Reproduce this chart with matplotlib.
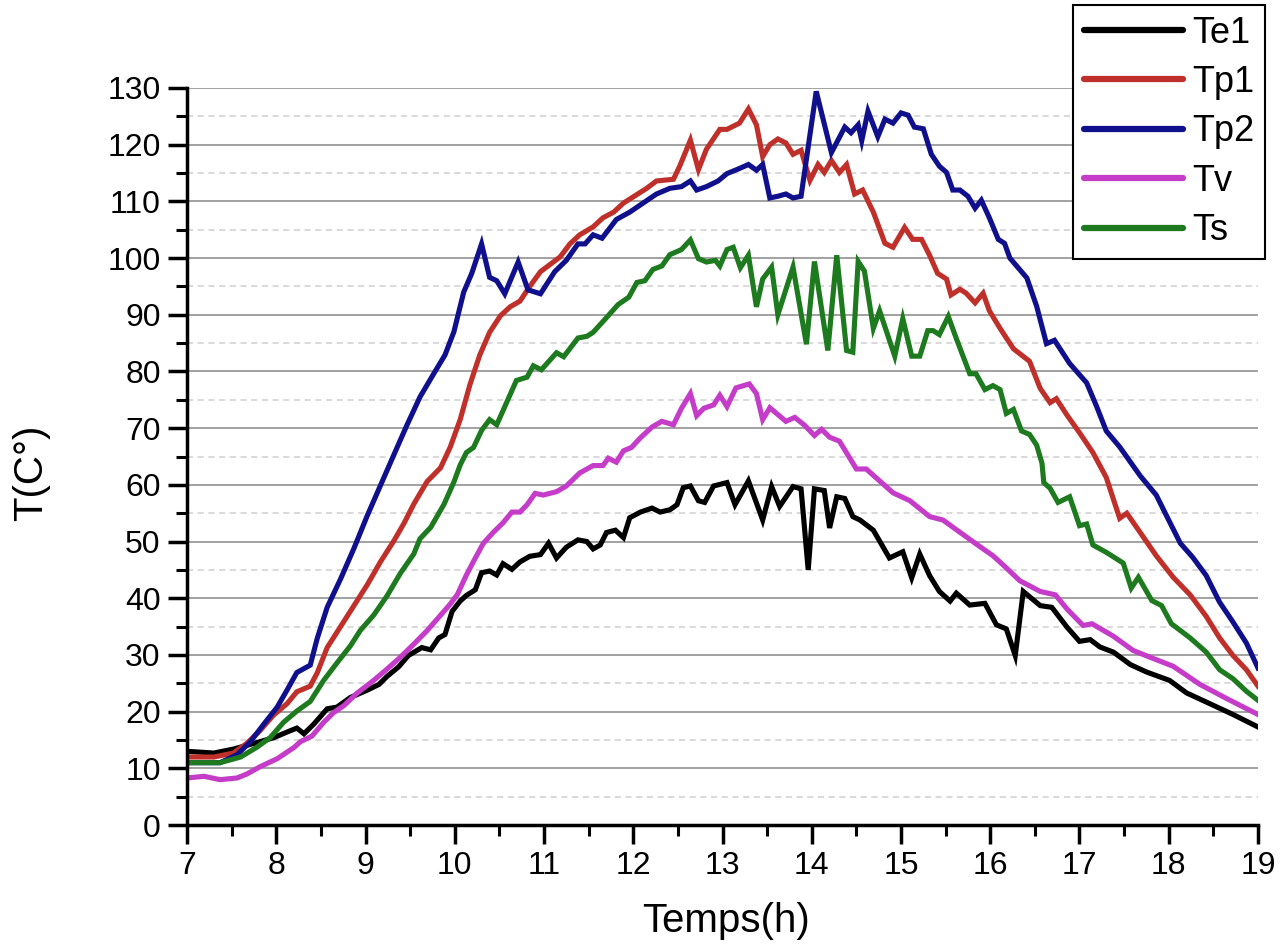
import matplotlib
matplotlib.use('Agg')
import matplotlib.pyplot as plt
from matplotlib.ticker import MultipleLocator

plt.rcParams['font.family'] = ['Liberation Sans', 'DejaVu Sans']

# hours / temperatures
te1_t = [7.0, 7.3, 7.52, 7.75, 7.97, 8.12, 8.23, 8.31, 8.42, 8.57,
         8.68, 8.83, 9.02, 9.15, 9.24, 9.37, 9.48, 9.63, 9.73, 9.82,
         9.89, 9.97, 10.06, 10.13, 10.23, 10.3, 10.39, 10.47, 10.54, 10.64,
         10.73, 10.84, 10.96, 11.05, 11.14, 11.25, 11.38, 11.48, 11.55, 11.63,
         11.7, 11.8, 11.89, 11.96, 12.08, 12.21, 12.3, 12.41, 12.49, 12.56,
         12.64, 12.73, 12.8, 12.9, 13.05, 13.14, 13.29, 13.45, 13.55, 13.64,
         13.79, 13.88, 13.96, 14.03, 14.14, 14.2, 14.28, 14.37, 14.46, 14.54,
         14.69, 14.87, 15.02, 15.12, 15.21, 15.32, 15.43, 15.55, 15.62, 15.77,
         15.94, 16.07, 16.18, 16.28, 16.37, 16.56, 16.69, 16.86, 17.0, 17.12,
         17.23, 17.38, 17.57, 17.75, 18.01, 18.2, 18.42, 18.72, 19.0]
te1_v = [13.0, 12.7, 13.4, 14.4, 15.4, 16.4, 17.1, 16.1, 17.8, 20.5,
         20.8, 22.5, 23.8, 24.8, 26.2, 27.9, 29.9, 31.3, 30.9, 33.0,
         33.6, 37.7, 39.5, 40.5, 41.5, 44.5, 44.8, 44.1, 46.1, 45.1,
         46.4, 47.4, 47.7, 49.7, 47.1, 49.0, 50.3, 50.0, 48.7, 49.4,
         51.6, 52.0, 50.7, 54.2, 55.2, 55.9, 55.2, 55.6, 56.5, 59.5,
         59.8, 57.2, 56.9, 59.8, 60.4, 56.5, 60.7, 53.8, 59.7, 56.2,
         59.7, 59.3, 45.0, 59.3, 59.0, 52.4, 57.9, 57.6, 54.4, 53.8,
         52.0, 47.1, 48.2, 43.6, 47.8, 44.0, 41.2, 39.5, 40.9, 38.8,
         39.1, 35.3, 34.6, 29.9, 41.2, 38.7, 38.4, 34.9, 32.4, 32.7,
         31.4, 30.5, 28.3, 27.0, 25.5, 23.3, 21.7, 19.5, 17.3]

tp1_t = [7.0, 7.3, 7.52, 7.67, 7.82, 7.97, 8.12, 8.23, 8.38, 8.46,
         8.57, 8.72, 8.87, 9.02, 9.17, 9.32, 9.43, 9.54, 9.69, 9.84,
         9.95, 10.06, 10.17, 10.28, 10.39, 10.51, 10.62, 10.73, 10.84, 10.96,
         11.07, 11.18, 11.29, 11.4, 11.55, 11.66, 11.78, 11.89, 12.02, 12.15,
         12.26, 12.45, 12.52, 12.64, 12.73, 12.82, 12.97, 13.05, 13.19, 13.29,
         13.38, 13.45, 13.53, 13.62, 13.71, 13.79, 13.88, 13.98, 14.07, 14.14,
         14.22, 14.31, 14.39, 14.48, 14.57, 14.69, 14.82, 14.91, 15.04, 15.13,
         15.23, 15.32, 15.41, 15.51, 15.56, 15.66, 15.73, 15.83, 15.92, 15.99,
         16.11, 16.26, 16.44, 16.56, 16.67, 16.74, 16.86, 17.0, 17.15, 17.3,
         17.45, 17.53, 17.68, 17.86, 18.05, 18.24, 18.42, 18.57, 18.72, 18.87,
         19.0]
tp1_v = [12.0, 12.0, 12.7, 14.4, 16.7, 19.4, 21.4, 23.5, 24.5, 26.9,
         31.3, 35.0, 38.7, 42.4, 46.5, 50.2, 53.2, 56.6, 60.6, 63.0,
         66.7, 71.5, 77.7, 82.9, 86.9, 89.8, 91.4, 92.4, 95.0, 97.6,
         98.9, 100.2, 102.5, 104.1, 105.5, 107.1, 108.1, 109.7, 111.0, 112.3,
         113.6, 113.9, 116.2, 120.8, 115.6, 119.2, 122.7, 122.7, 123.8, 126.3,
         123.5, 117.9, 120.0, 121.0, 120.3, 118.3, 119.0, 113.7, 116.5, 115.1,
         117.2, 115.1, 116.5, 111.3, 112.0, 108.1, 102.6, 101.9, 105.4, 103.3,
         103.3, 100.5, 97.3, 96.3, 93.5, 94.5, 93.8, 92.1, 93.8, 90.7,
         87.6, 84.0, 81.8, 77.0, 74.5, 75.2, 72.3, 69.2, 65.7, 61.3,
         54.1, 55.0, 51.6, 47.5, 43.7, 40.6, 36.8, 33.0, 29.9, 27.4,
         24.5]

tp2_t = [7.0, 7.37, 7.56, 7.71, 7.86, 8.01, 8.12, 8.23, 8.38, 8.46,
         8.57, 8.72, 8.87, 9.02, 9.17, 9.32, 9.46, 9.61, 9.76, 9.89,
         9.99, 10.1, 10.19, 10.3, 10.39, 10.47, 10.56, 10.71, 10.82, 10.96,
         11.12, 11.25, 11.38, 11.46, 11.55, 11.65, 11.81, 11.96, 12.11, 12.26,
         12.41, 12.54, 12.64, 12.71, 12.82, 12.95, 13.05, 13.19, 13.29, 13.38,
         13.45, 13.53, 13.62, 13.71, 13.79, 13.88, 14.05, 14.22, 14.37, 14.44,
         14.52, 14.56, 14.63, 14.74, 14.82, 14.91, 15.0, 15.08, 15.15, 15.25,
         15.34, 15.43, 15.51, 15.58, 15.66, 15.75, 15.83, 15.9, 15.99, 16.09,
         16.16, 16.22, 16.41, 16.52, 16.63, 16.72, 16.89, 17.08, 17.19, 17.3,
         17.45, 17.68, 17.86, 17.98, 18.13, 18.27, 18.42, 18.57, 18.72, 18.87,
         19.0]
tp2_v = [11.0, 11.0, 12.4, 14.7, 17.8, 20.8, 23.8, 26.9, 28.2, 33.0,
         38.4, 43.4, 48.8, 54.6, 60.0, 65.4, 70.4, 75.5, 79.5, 82.9,
         87.0, 94.0, 97.3, 102.5, 96.6, 96.0, 93.7, 99.3, 94.4, 93.7,
         97.6, 99.6, 102.5, 102.5, 104.1, 103.5, 106.8, 108.1, 109.7, 111.3,
         112.3, 112.6, 113.6, 112.0, 112.6, 113.6, 114.9, 115.8, 116.5, 115.5,
         116.5, 110.6, 110.9, 111.3, 110.6, 110.9, 129.4, 118.6, 123.1, 122.1,
         123.5, 120.7, 125.9, 121.4, 124.5, 123.8, 125.6, 125.2, 123.1, 122.8,
         118.3, 116.2, 115.1, 112.0, 112.0, 110.9, 108.8, 110.2, 107.1, 103.3,
         102.6, 100.0, 96.5, 91.5, 84.9, 85.5, 81.4, 78.0, 73.9, 69.5,
         66.7, 61.6, 58.2, 54.4, 49.7, 47.2, 44.0, 39.3, 35.8, 32.1,
         27.7]

tv_t = [7.0, 7.19, 7.37, 7.56, 7.67, 7.82, 8.01, 8.2, 8.27, 8.4,
        8.53, 8.64, 8.76, 8.9, 9.09, 9.24, 9.39, 9.54, 9.69, 9.84,
        9.95, 10.03, 10.13, 10.23, 10.32, 10.43, 10.54, 10.64, 10.73, 10.81,
        10.9, 10.99, 11.14, 11.25, 11.4, 11.55, 11.66, 11.72, 11.81, 11.89,
        11.98, 12.08, 12.21, 12.32, 12.45, 12.54, 12.64, 12.71, 12.79, 12.9,
        12.97, 13.05, 13.15, 13.3, 13.38, 13.45, 13.53, 13.71, 13.81, 13.92,
        14.03, 14.11, 14.2, 14.31, 14.5, 14.61, 14.76, 14.91, 15.1, 15.32,
        15.47, 15.69, 15.84, 16.03, 16.15, 16.33, 16.56, 16.73, 16.86, 17.04,
        17.14, 17.38, 17.6, 17.79, 18.05, 18.35, 18.65, 19.0]
tv_v = [8.3, 8.6, 8.0, 8.3, 9.0, 10.3, 11.7, 13.7, 14.7, 15.7,
        18.1, 19.8, 21.1, 23.2, 25.5, 27.5, 29.6, 31.9, 34.3, 37.0,
        39.0, 40.7, 44.1, 47.1, 49.7, 51.6, 53.3, 55.2, 55.2, 56.5,
        58.5, 58.2, 58.8, 59.8, 62.1, 63.4, 63.4, 64.7, 64.0, 66.0,
        66.6, 68.3, 70.2, 71.2, 70.6, 73.5, 76.1, 72.2, 73.5, 74.1,
        75.8, 73.8, 77.1, 77.8, 76.1, 71.5, 73.6, 71.2, 71.9, 70.5,
        68.7, 69.8, 68.4, 67.7, 62.8, 62.8, 60.7, 58.6, 57.2, 54.4,
        53.8, 51.3, 49.6, 47.5, 45.8, 43.1, 41.2, 40.6, 38.1, 35.2,
        35.5, 33.3, 30.8, 29.6, 28.0, 24.8, 22.3, 19.5]

ts_t = [7.0, 7.37, 7.6, 7.78, 7.93, 8.08, 8.23, 8.38, 8.53, 8.68,
        8.83, 8.94, 9.09, 9.24, 9.39, 9.54, 9.61, 9.73, 9.88, 9.99,
        10.06, 10.13, 10.21, 10.3, 10.39, 10.47, 10.58, 10.69, 10.81, 10.88,
        10.97, 11.14, 11.22, 11.38, 11.48, 11.55, 11.7, 11.83, 11.95, 12.04,
        12.13, 12.22, 12.32, 12.41, 12.54, 12.64, 12.73, 12.82, 12.92, 12.97,
        13.05, 13.12, 13.2, 13.29, 13.38, 13.45, 13.55, 13.62, 13.79, 13.94,
        14.03, 14.18, 14.28, 14.39, 14.46, 14.52, 14.59, 14.69, 14.76, 14.93,
        15.02, 15.12, 15.21, 15.3, 15.36, 15.43, 15.53, 15.62, 15.77, 15.84,
        15.94, 16.03, 16.11, 16.18, 16.26, 16.35, 16.44, 16.52, 16.58, 16.6,
        16.67, 16.76, 16.89, 17.0, 17.08, 17.15, 17.3, 17.49, 17.58, 17.66,
        17.81, 17.92, 18.03, 18.24, 18.42, 18.57, 18.72, 18.87, 19.0]
ts_v = [11.0, 11.0, 12.0, 13.7, 15.4, 18.1, 20.1, 21.8, 25.5, 28.6,
        31.6, 34.3, 37.0, 40.4, 44.4, 47.8, 50.5, 52.5, 56.6, 60.5,
        63.5, 65.7, 66.6, 69.6, 71.5, 70.6, 74.5, 78.4, 79.0, 81.0,
        80.3, 83.3, 82.6, 85.9, 86.2, 86.9, 89.5, 91.8, 93.1, 95.7,
        96.0, 98.0, 98.6, 100.6, 101.5, 103.2, 99.9, 99.3, 99.6, 98.6,
        101.5, 101.9, 98.3, 100.5, 91.4, 96.3, 98.4, 90.0, 98.4, 84.8,
        99.4, 83.7, 100.5, 83.7, 83.4, 99.4, 97.7, 87.6, 90.7, 82.7,
        89.3, 82.7, 82.7, 87.2, 87.2, 86.5, 89.7, 85.8, 79.6, 79.6,
        76.8, 77.5, 76.8, 72.6, 73.3, 69.5, 68.9, 67.0, 63.8, 60.4,
        59.4, 56.9, 57.9, 52.8, 53.1, 49.4, 48.1, 46.2, 41.8, 43.7,
        39.6, 38.7, 35.5, 33.0, 30.5, 27.4, 25.8, 23.6, 22.0]

names = ['Te1', 'Tp1', 'Tp2', 'Tv', 'Ts']
colors = ['#000000', '#c0302a', '#10108c', '#c43cc8', '#1e7a1e']
series = [(te1_t, te1_v), (tp1_t, tp1_v), (tp2_t, tp2_v), (tv_t, tv_v), (ts_t, ts_v)]

fig = plt.figure(figsize=(12.83, 9.48), dpi=100)
ax = fig.add_axes([0.1458, 0.1297, 0.8347, 0.7775])

for (t, v), name, c in zip(series, names, colors):
    ax.plot(t, v, color=c, lw=3.7, label=name, solid_joinstyle='miter')

ax.set_xlim(7, 19)
ax.set_ylim(0, 130)
ax.xaxis.set_major_locator(MultipleLocator(1))
ax.xaxis.set_minor_locator(MultipleLocator(0.5))
ax.yaxis.set_major_locator(MultipleLocator(10))
ax.yaxis.set_minor_locator(MultipleLocator(5))

ax.grid(axis='y', which='major', color='#9a9a9a', lw=1.3, ls='-')
ax.grid(axis='y', which='minor', color='#cfcfcf', lw=1.1, ls=(0, (4, 3)))
ax.get_ygridlines()[-1].set_visible(False)
ax.set_axisbelow(True)

for s in ['top', 'right']:
    ax.spines[s].set_visible(False)
for s in ['left', 'bottom']:
    ax.spines[s].set_linewidth(2.5)

ax.tick_params(which='major', direction='out', length=14, width=2.5, labelsize=23, pad=5)
ax.tick_params(which='minor', direction='out', length=8, width=2.2)

ax.set_xlabel('Temps(h)', fontsize=29)
ax.set_ylabel('T(C°)', fontsize=29)
ax.xaxis.set_label_coords(0.503, -0.105)
ax.yaxis.set_label_coords(-0.128, 0.478)

leg = fig.legend(loc='upper right', bbox_to_anchor=(0.986, 0.995), fontsize=26,
                 frameon=True, fancybox=False, edgecolor='black', framealpha=1,
                 handlelength=2.75, handletextpad=0.25, labelspacing=0.4,
                 borderpad=0.3, borderaxespad=0)
leg.get_frame().set_linewidth(1.5)
for line in leg.get_lines():
    line.set_linewidth(4.5)
    line.set_solid_capstyle('round')

fig.savefig('out.png', dpi=100)
